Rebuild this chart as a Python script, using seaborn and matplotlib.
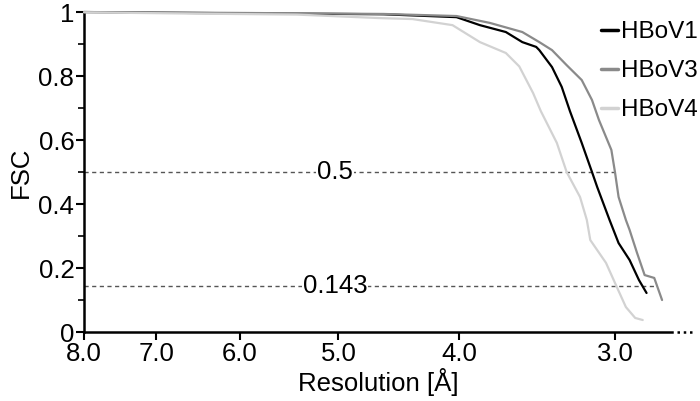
import numpy as np
import pandas as pd
import matplotlib
matplotlib.use('Agg')
import matplotlib.pyplot as plt
import seaborn as sns
from matplotlib.ticker import FixedLocator, NullLocator, FuncFormatter

# FSC curves (resolution in Å, FSC)
hbov1_res = [8.0, 6.5, 5.4, 4.6, 4.02, 3.85, 3.67, 3.56, 3.47, 3.45, 3.37, 3.31, 3.26,
             3.19, 3.13, 3.10, 3.03, 2.98, 2.92, 2.87, 2.83]
hbov1_fsc = [1.0, 0.997, 0.995, 0.993, 0.984, 0.959, 0.9375, 0.906, 0.891, 0.881, 0.828,
             0.766, 0.69, 0.591, 0.5, 0.453, 0.35, 0.278, 0.225, 0.1625, 0.122]

hbov3_res = [8.0, 6.5, 5.4, 4.6, 4.02, 3.78, 3.56, 3.45, 3.37, 3.28, 3.19, 3.13, 3.09,
             3.02, 3.00, 2.98, 2.94, 2.92, 2.88, 2.84, 2.79, 2.75]
hbov3_fsc = [1.0, 0.998, 0.996, 0.994, 0.9875, 0.966, 0.9375, 0.906, 0.881, 0.834, 0.7875,
             0.725, 0.6625, 0.569, 0.5, 0.422, 0.35, 0.319, 0.247, 0.178, 0.169, 0.10]

hbov4_res = [8.0, 6.5, 5.4, 4.63, 4.36, 4.05, 3.85, 3.67, 3.58, 3.49, 3.44, 3.34, 3.28,
             3.20, 3.16, 3.14, 3.05, 2.99, 2.94, 2.89, 2.85]
hbov4_fsc = [0.999, 0.995, 0.992, 0.981, 0.978, 0.959, 0.906, 0.872, 0.83, 0.747, 0.69,
             0.591, 0.5, 0.422, 0.35, 0.2875, 0.216, 0.141, 0.078, 0.044, 0.0375]

thresholds = [0.5, 0.143]
threshold_labels = ['0.5', '0.143']
threshold_ends = [3.0, 2.78]
x_ticks = [8.0, 7.0, 6.0, 5.0, 4.0, 3.0]

df = pd.concat([
    pd.DataFrame({'res': hbov1_res, 'fsc': hbov1_fsc, 'sample': 'HBoV1'}),
    pd.DataFrame({'res': hbov3_res, 'fsc': hbov3_fsc, 'sample': 'HBoV3'}),
    pd.DataFrame({'res': hbov4_res, 'fsc': hbov4_fsc, 'sample': 'HBoV4'}),
])

sns.set_theme(style='ticks')
plt.rcParams['font.family'] = ['Liberation Sans', 'DejaVu Sans']
plt.rcParams['text.color'] = 'black'
plt.rcParams['axes.labelcolor'] = 'black'

FS = 18.5

fig = plt.figure(figsize=(7.0, 4.01), dpi=100)
ax = fig.add_axes([0.12, 0.172, 0.84, 0.798])

# threshold lines
for t, lab, end in zip(thresholds, threshold_labels, threshold_ends):
    ax.hlines(t, 8.0, end, colors='#555555', linestyles=(0, (3, 2.5)), linewidth=1.0, zorder=1)
    ax.text(5.03, t, lab, ha='center', va='center', fontsize=FS, color='black',
            bbox=dict(facecolor='white', edgecolor='none', pad=0.5), zorder=2)

palette = {'HBoV1': '#000000', 'HBoV3': '#8a8a8a', 'HBoV4': '#d2d2d2'}
sns.lineplot(data=df, x='res', y='fsc', hue='sample', palette=palette, sort=False,
             linewidth=1.6, ax=ax, zorder=3, legend=True)
for ln in ax.get_lines():
    ln.set_clip_on(False)

ax.set_xscale('log')
ax.set_xlim(8.0, 2.70)
ax.set_ylim(0, 1)
ax.xaxis.set_major_locator(FixedLocator(x_ticks))
ax.xaxis.set_minor_locator(NullLocator())
ax.xaxis.set_major_formatter(FuncFormatter(lambda v, p: f'{v:.1f}'))
ax.yaxis.set_major_locator(FixedLocator([0, 0.2, 0.4, 0.6, 0.8, 1.0]))
ax.yaxis.set_minor_locator(FixedLocator([0.1, 0.3, 0.5, 0.7, 0.9]))
ax.yaxis.set_major_formatter(FuncFormatter(lambda v, p: f'{v:g}'))

ax.tick_params(axis='both', which='major', labelsize=FS, length=6, width=1.5,
               colors='black', labelcolor='black', pad=1)
ax.tick_params(axis='x', which='major', pad=1.5)
ax.tick_params(axis='y', which='minor', length=4, width=1.2, colors='black')
for s in ['top', 'right']:
    ax.spines[s].set_visible(False)
for s in ['left', 'bottom']:
    ax.spines[s].set_linewidth(1.8)
    ax.spines[s].set_color('black')

ax.set_xlabel('Resolution [Å]', fontsize=FS, labelpad=1)
ax.set_ylabel('FSC', fontsize=FS, labelpad=4)

# dotted continuation of the x axis
ax.plot([1.008, 1.035], [0, 0], transform=ax.transAxes, color='black', linestyle=(0, (1, 1.5)),
        linewidth=1.8, clip_on=False)

leg = ax.legend(loc='upper left', bbox_to_anchor=(0.858, 0.947), bbox_transform=fig.transFigure,
                frameon=False, fontsize=17.5, handlelength=0.7, handletextpad=0.15,
                labelspacing=0.7, borderaxespad=0, borderpad=0)
for h in leg.get_lines():
    h.set_linewidth(2.5)

fig.savefig('out.png', dpi=100)
